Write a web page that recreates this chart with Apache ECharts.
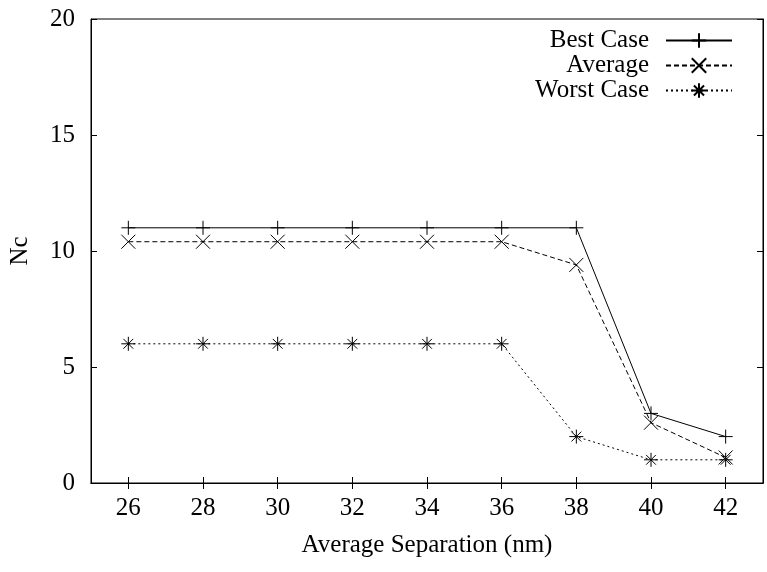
<!DOCTYPE html>
<html>
<head>
<meta charset="utf-8">
<script src="https://cdn.jsdelivr.net/npm/echarts@6/dist/echarts.min.js"></script>
<style>
  html, body { margin: 0; padding: 0; background: #fff; }
  #chart { width: 767px; height: 572px; }
</style>
</head>
<body>
<div id="chart"></div>
<script>
// Separation values (nm) on the x axis
var separations = [26, 28, 30, 32, 34, 36, 38, 40, 42];
var xTicks = [26, 28, 30, 32, 34, 36, 38, 40, 42];
var yTicks = [0, 5, 10, 15, 20];

// Nc for each case
var bestCase  = [11, 11, 11, 11, 11, 11, 11, 3, 2];
var average   = [10.4, 10.4, 10.4, 10.4, 10.4, 10.4, 9.4, 2.6, 1.1];
var worstCase = [6, 6, 6, 6, 6, 6, 2, 1, 1];

var seriesNames = ['Best Case', 'Average', 'Worst Case'];

var FONT = 'Liberation Serif';
var FS = 25;

// Stroke-only marker shapes
var plusPath = 'path://M0,5L10,5M5,0L5,10';
var crossPath = 'path://M0,0L10,10M10,0L0,10';
var starPath = 'path://M0,5L10,5M5,0L5,10M1.5,1.5L8.5,8.5M8.5,1.5L1.5,8.5';

function pairs(ys) {
  return separations.map(function (x, i) { return [x, ys[i]]; });
}

function makeSeries(name, ys, symbol, dash) {
  return {
    name: name,
    type: 'line',
    data: pairs(ys),
    symbol: symbol,
    symbolSize: 14,
    symbolKeepAspect: true,
    showAllSymbol: true,
    itemStyle: { color: 'transparent', borderColor: '#000', borderWidth: 1 },
    lineStyle: { color: '#000', width: 1, type: dash },
    emphasis: { disabled: true },
    silent: true,
    z: 3
  };
}

function makeLegend(name, top) {
  return {
    data: [name],
    orient: 'vertical',
    right: 34,
    top: top,
    align: 'right',
    itemWidth: 66,
    itemHeight: 18,
    padding: 0,
    selectedMode: false,
    textStyle: { fontFamily: FONT, fontSize: FS, color: '#000', padding: [0, 12, 0, 0] }
  };
}

var axisLineStyle = { color: '#000', width: 1 };

var chart = echarts.init(document.getElementById('chart'), null, { renderer: 'canvas' });
chart.setOption({
  animation: false,
  backgroundColor: '#fff',
  grid: { left: 91, right: 4, top: 19, bottom: 89, show: true, borderColor: '#000', borderWidth: 1 },
  legend: [
    makeLegend(seriesNames[0], 28),
    makeLegend(seriesNames[1], 53),
    makeLegend(seriesNames[2], 78)
  ],
  xAxis: [{
    type: 'value', min: 25, max: 43, position: 'bottom',
    name: 'Average Separation (nm)', nameLocation: 'middle', nameGap: 50,
    nameTextStyle: { fontFamily: FONT, fontSize: FS, color: '#000' },
    axisLine: { show: true, lineStyle: axisLineStyle },
    axisTick: { show: true, inside: true, length: 6, customValues: xTicks, lineStyle: axisLineStyle },
    axisLabel: { customValues: xTicks, margin: 13, fontFamily: FONT, fontSize: FS, color: '#000' },
    splitLine: { show: false }
  }, {
    type: 'value', min: 25, max: 43, position: 'top',
    axisLine: { show: true, lineStyle: axisLineStyle },
    axisTick: { show: true, inside: true, length: 6, customValues: xTicks, lineStyle: axisLineStyle },
    axisLabel: { show: false },
    splitLine: { show: false }
  }],
  yAxis: [{
    type: 'value', min: 0, max: 20, interval: 5, position: 'left',
    name: 'Nc', nameLocation: 'middle', nameGap: 58, nameRotate: 90,
    nameTextStyle: { fontFamily: FONT, fontSize: FS, color: '#000' },
    axisLine: { show: true, lineStyle: axisLineStyle },
    axisTick: { show: true, inside: true, length: 6, lineStyle: axisLineStyle },
    axisLabel: { margin: 16, fontFamily: FONT, fontSize: FS, color: '#000',
                 customValues: yTicks },
    splitLine: { show: false }
  }, {
    type: 'value', min: 0, max: 20, interval: 5, position: 'right',
    axisLine: { show: true, lineStyle: axisLineStyle },
    axisTick: { show: true, inside: true, length: 6, lineStyle: axisLineStyle },
    axisLabel: { show: false },
    splitLine: { show: false }
  }],
  series: [
    makeSeries(seriesNames[0], bestCase, plusPath, 'solid'),
    makeSeries(seriesNames[1], average, crossPath, [5, 3]),
    makeSeries(seriesNames[2], worstCase, starPath, [2, 3])
  ]
});
</script>
</body>
</html>
